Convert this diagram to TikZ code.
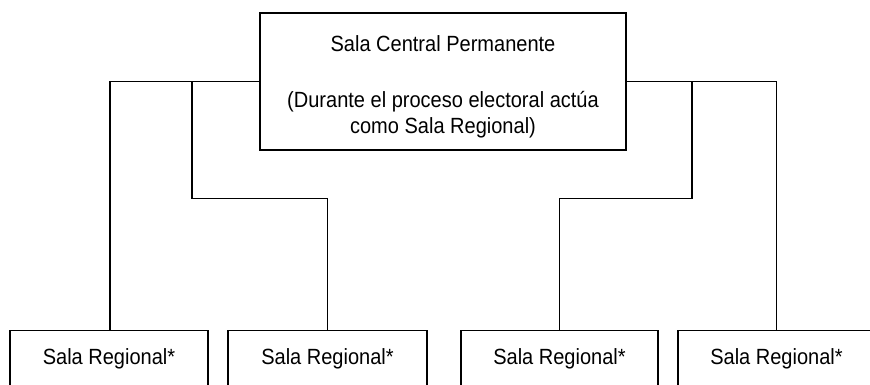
\documentclass[tikz,border=0pt]{standalone}
\usepackage{fontspec}
\setmainfont[FakeStretch=0.91]{Liberation Sans}
\begin{document}
\begin{tikzpicture}[x=1pt,y=-1pt,
  boxstyle/.style={draw=black, line width=1.2pt, fill=white, inner sep=0pt},
  txt/.style={font=\fontsize{22}{26}\selectfont, inner sep=0pt, align=center},
  conn/.style={draw=black, line width=1.2pt}]
\useasboundingbox (0,0) rectangle (870,385);
\clip (0,0) rectangle (870,385);
\fill[white] (0,0) rectangle (870,385);

% central box
\node[boxstyle, minimum width=366pt, minimum height=137pt] (central) at (443,81.5) {};
\node[txt] (ctext) at (443,86.5) {Sala Central Permanente\\[30pt](Durante el proceso electoral actúa\\como Sala Regional)};

% bottom boxes
\node[boxstyle, txt, anchor=north, minimum width=198pt, minimum height=57pt] (box1) at (109,330) {Sala Regional*};
\node[boxstyle, txt, anchor=north, minimum width=199pt, minimum height=57pt] (box2) at (327.5,330) {Sala Regional*};
\node[boxstyle, txt, anchor=north, minimum width=197pt, minimum height=57pt] (box3) at (559.5,330) {Sala Regional*};
\node[boxstyle, txt, anchor=north, minimum width=197pt, minimum height=57pt] (box4) at (776.5,330) {Sala Regional*};

% junction coordinates
\coordinate (kl) at (192,198.5);
\coordinate (kr) at (692,198.5);
\coordinate (xl) at (110,0);

% connectors
\draw[conn] (central.west) -| (box1.north -| xl);
\draw[conn] (kl |- central.west) -- (kl) -| (box2.north);
\draw[conn] (central.east) -| (box4.north);
\draw[conn] (kr |- central.east) -- (kr) -| (box3.north);
\end{tikzpicture}
\end{document}
